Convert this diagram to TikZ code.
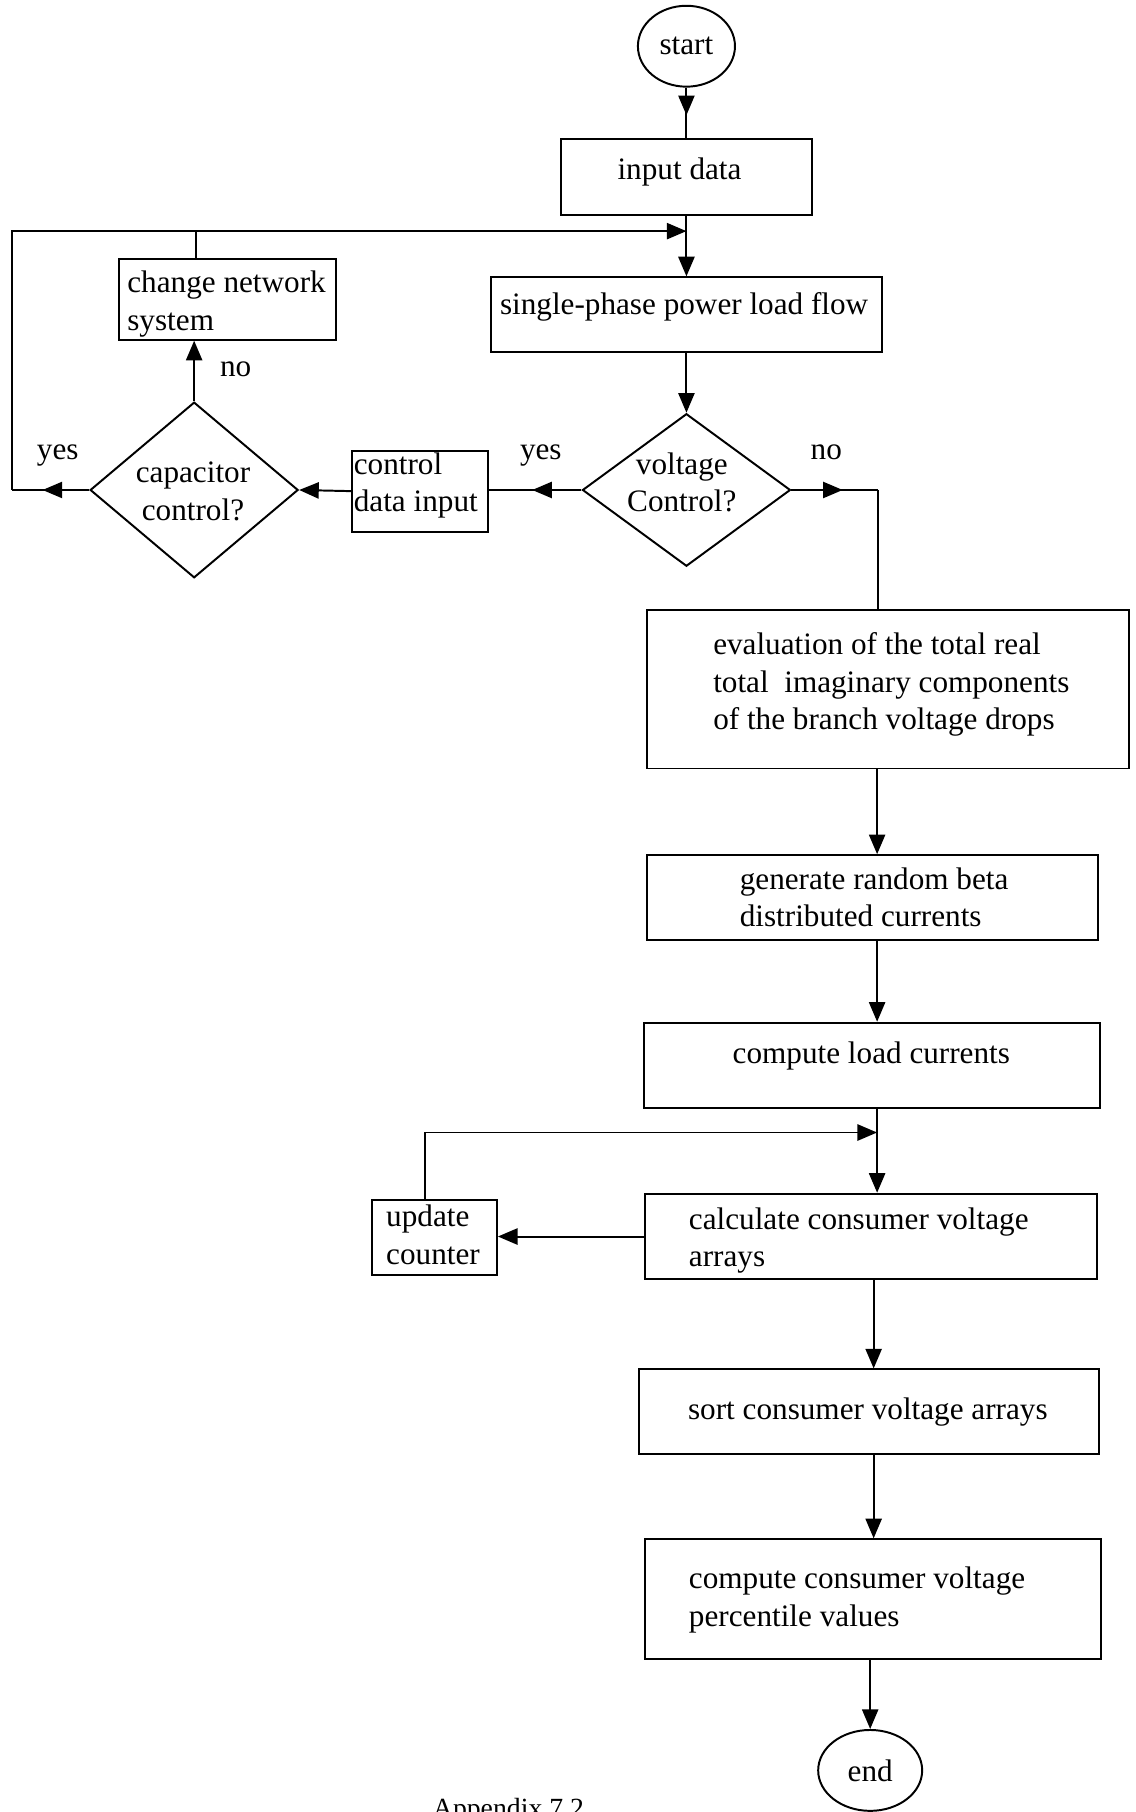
\documentclass[tikz,border=0pt]{standalone}
\usepackage{fontspec}
\setmainfont{Liberation Serif}
\usetikzlibrary{shapes.geometric,arrows.meta,decorations.markings}

\tikzset{
  x=1pt, y=-1pt,
  tip/.tip={Triangle[length=17pt,width=14pt]},
  flow/.style={line width=1.7pt, line join=miter},
  box/.style={draw, line width=1.7pt, rectangle, inner sep=0pt},
  terminal/.style={draw, line width=1.7pt, ellipse, inner sep=0pt,
    font=\fontsize{27}{32.5}\selectfont},
  decision/.style={draw, line width=1.7pt, diamond, inner sep=0pt},
  txt/.style={inner sep=0pt, font=\fontsize{27}{32.5}\selectfont, anchor=base},
  ltxt/.style={inner sep=0pt, font=\fontsize{27}{32.5}\selectfont,
    align=left, anchor=north west},
  ctxt/.style={inner sep=0pt, font=\fontsize{27}{32.5}\selectfont,
    align=center, anchor=north},
  midarrow/.style={postaction={decorate}, decoration={markings,
    mark=at position #1 with {\arrow{tip}}}}
}

\begin{document}
\begin{tikzpicture}
\useasboundingbox (0,0) rectangle (983,1568);
\clip (0,0) rectangle (983,1568);

% main column, upper part
\node[terminal, minimum width=84pt, minimum height=70pt] (start) at (594,40) {start};
\node[box, minimum width=217pt, minimum height=66pt] (input) at (594,153) {};
\node[txt] (t-input) at (588,155) {input data};
\node[box, minimum width=339pt, minimum height=65pt] (single) at (594,272.5) {};
\node[txt] (t-single) at (592,272) {single-phase power load flow};
\node[decision, minimum width=180pt, minimum height=132pt] (volt) at (594,424) {};
\node[ctxt] (t-volt) at (590,391.6) {voltage\\Control?};

% control branch on the left
\node[box, minimum width=117pt, minimum height=70pt] (ctrl) at (363.5,425) {};
\node[ltxt] (t-ctrl) at (306,391.6) {control\\data input};
\node[decision, minimum width=180pt, minimum height=152pt] (cap) at (168,424) {};
\node[ctxt] (t-cap) at (167,399.6) {capacitor\\control?};
\node[box, minimum width=188pt, minimum height=70pt] (change) at (197,259) {};
\node[ltxt] (t-change) at (110,234.6) {change network\\system};

% branch labels
\node[txt] (l-vyes) at (468,398) {yes};
\node[txt] (l-vno) at (715,398) {no};
\node[txt] (l-cno) at (204,326) {no};
\node[txt] (l-cyes) at (50,398) {yes};

% right column
\node[box, minimum width=417pt, minimum height=137pt] (eval) at (768.5,596.5) {};
\node[ltxt] (t-eval) at (617,547.2) {evaluation of the total real\\total\ \ imaginary components\\of the branch voltage drops};
\node[box, minimum width=390pt, minimum height=73pt] (gen) at (755,776.5) {};
\node[ltxt] (t-gen) at (640,750.6) {generate random beta\\distributed currents};
\node[box, minimum width=395pt, minimum height=74pt] (comp) at (754.5,922) {};
\node[txt] (t-comp) at (754,920) {compute load currents};
\node[box, minimum width=391pt, minimum height=74pt] (calc) at (753.5,1070) {};
\node[ltxt] (t-calc) at (596,1044.6) {calculate consumer voltage\\arrays};
\node[box, minimum width=108pt, minimum height=65pt] (upd) at (376,1070.5) {};
\node[ltxt] (t-upd) at (334,1042.6) {update\\counter};
\node[box, minimum width=398pt, minimum height=73pt] (sort) at (752,1221.5) {};
\node[txt] (t-sort) at (751,1228) {sort consumer voltage arrays};
\node[box, minimum width=395pt, minimum height=104pt] (perc) at (755.5,1384) {};
\node[ltxt] (t-perc) at (596,1355.6) {compute consumer voltage\\percentile values};
\node[terminal, minimum width=90pt, minimum height=70pt] (end) at (753,1532) {end};

\node[inner sep=0pt, font=\fontsize{24}{24}\selectfont, anchor=base] (caption) at (440,1573) {Appendix 7.2};

% junction and bend points
\coordinate (jtop) at (594,200);
\coordinate (lcorner) at (10,424);
\coordinate (ltop) at (10,200);
\coordinate (cm) at (170,0);
\coordinate (vn) at (760,424);
\coordinate (c1) at (759,0);
\coordinate (c2) at (756,0);
\coordinate (um) at (368,0);
\coordinate (jm) at (759,980);

% connectors, upper part
\draw[flow, midarrow=0.55] (start.south) -- (start.south |- input.north);
\draw[flow, -tip] (input.south) -- (input.south |- single.north);
\draw[flow, -tip] (single.south) -- (volt.north);
\draw[flow, midarrow=0.53] (volt.west) -- (volt.west -| ctrl.east);
\draw[flow, -tip] (ctrl.west) -- (cap.east);
\draw[flow, -tip] (cap.north) -- (cap.north |- change.south);
\draw[flow, midarrow=0.6] (cap.west) -- (lcorner);
\draw[flow, -tip] (lcorner) -- (ltop) -- (jtop);
\draw[flow] (change.north -| cm) -- (jtop -| cm);
\draw[flow, midarrow=0.59] (volt.east) -- (vn);
\draw[flow] (vn) -- (vn |- eval.north);

% connectors, right column
\draw[flow, -tip] (eval.south -| c1) -- (gen.north -| c1);
\draw[flow, -tip] (gen.south -| c1) -- (comp.north -| c1);
\draw[flow, -tip] (comp.south -| c1) -- (calc.north -| c1);
\draw[flow, -tip] (upd.north -| um) |- (jm);
\draw[flow, -tip] (calc.west) -- (calc.west -| upd.east);
\draw[flow, -tip] (calc.south -| c2) -- (sort.north -| c2);
\draw[flow, -tip] (sort.south -| c2) -- (perc.north -| c2);
\draw[flow, -tip] (perc.south -| end.north) -- (end.north);
\end{tikzpicture}
\end{document}
